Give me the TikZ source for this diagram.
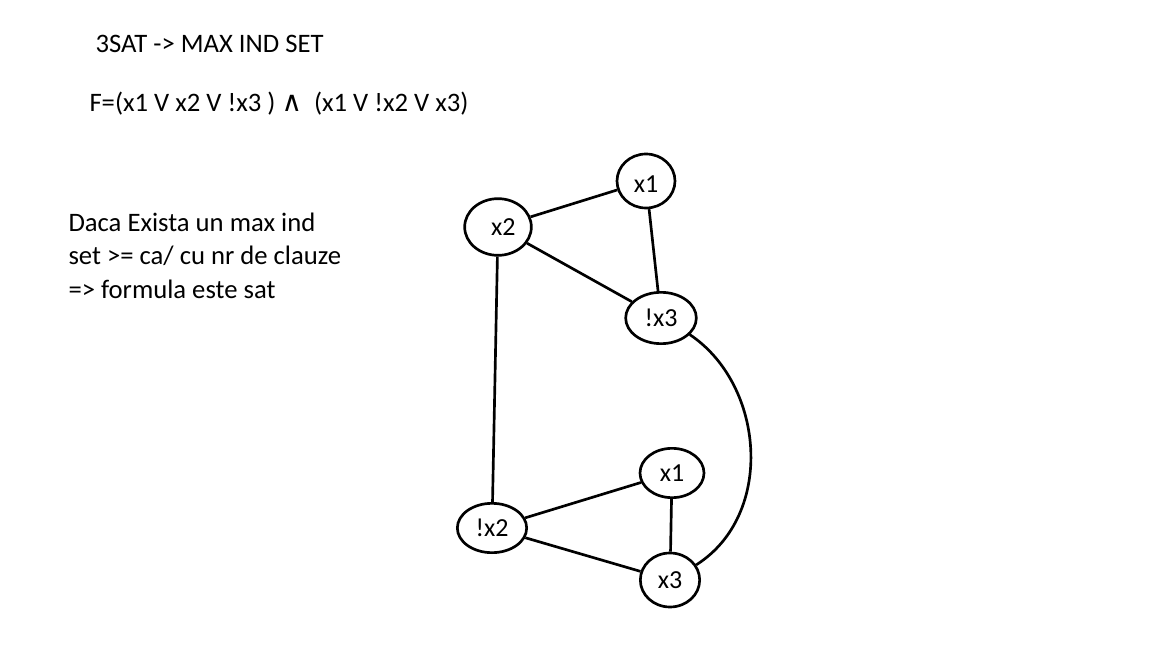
\documentclass[tikz,border=0pt]{standalone}
\usepackage{fontspec}
\setmainfont{Carlito}
\newfontfamily\symfont{DejaVu Sans}
\usetikzlibrary{shapes.geometric}

\tikzset{every picture/.style={line width=0.75pt}}
\tikzset{
  lit/.style={draw, ellipse, line width=2pt, inner sep=0pt, font=\fontsize{19.5}{22}\selectfont},
  edge/.style={line width=2pt},
  txt/.style={inner sep=0pt, font=\fontsize{20}{24}\selectfont}
}

\begin{document}
\begin{tikzpicture}[x=0.75pt,y=0.75pt,yscale=-1,xscale=1]
\path[use as bounding box] (0,0) rectangle (1152,648); %set diagram to 1152x648

% Text Node
\node (title) at (95,53) [anchor=base west][txt] {3SAT -> MAX IND SET};
% Text Node
\node (formula) at (89,112) [anchor=base west][txt] {F=(x1 V x2 V !x3 ) {\symfont\fontsize{21}{24}\selectfont ∧} ~(x1 V !x2 V x3)};
% Text Node
\node (claim) at (68,212) [anchor=north west][txt, align=left, font=\fontsize{20}{25.2}\selectfont] {Daca Exista un max ind\\set >= ca/ cu nr de clauze\\=> formula este sat};

%Clause 1
\node (xa) at (646,181) [lit, minimum width=43.5pt, minimum height=40.5pt, text height=18pt] {x1};
\node (xb) at (498,227) [lit, minimum width=50pt, minimum height=42.5pt] {\hspace{8pt}x2};
\node (nxc) at (661,318) [lit, minimum width=53pt, minimum height=38.5pt] {!x3};
%Clause 2
\node (xa2) at (672,473) [lit, minimum width=48pt, minimum height=37pt] {x1};
\node (nxb) at (492,528) [lit, minimum width=52pt, minimum height=37pt] {!x2};
\node (xc) at (670,580) [lit, minimum width=44.5pt, minimum height=40.5pt] {x3};

%Straight Lines
\draw [edge] (xb) -- (xa);
\draw [edge] (xa) -- (nxc);
\draw [edge] (xb) -- (nxc);
\draw [edge] (nxb) -- (xa2);
\draw [edge] (nxb) -- (xc);
\draw [edge] (xa2) -- (xc);
\draw [edge] (xb) -- (nxb);
%Curve
\draw [edge] (nxc.-30) .. controls (765,385) and (775,515) .. (xc.30);

\end{tikzpicture}
\end{document}
